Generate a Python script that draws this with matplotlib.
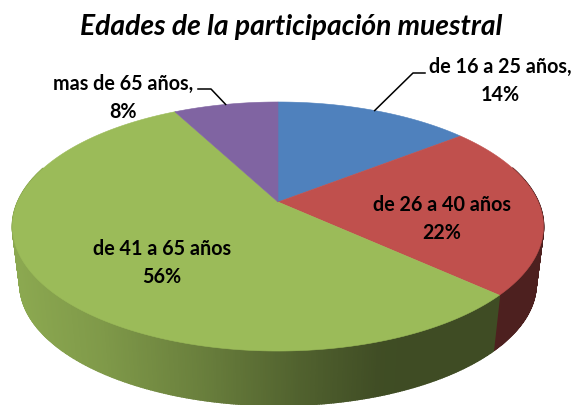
import numpy as np
import matplotlib
matplotlib.use('Agg')
import matplotlib.pyplot as plt

# shares (labels show them rounded)
categories = ['de 16 a 25 años', 'de 26 a 40 años', 'de 41 a 65 años', 'mas de 65 años']
shares = [14.4, 22.4, 55.5, 7.7]
shown = ['14%', '22%', '56%', '8%']
title = 'Edades de la participación muestral'

colors = ['#4f81bd', '#c0504d', '#9bbb59', '#8064a2']
side_x = [15, 100, 200, 300, 380, 572]
side_k = [0.90, 0.82, 0.68, 0.52, 0.41, 0.40]

plt.rcParams['font.family'] = ['Lato', 'DejaVu Sans']

# perspective of the pie, in pixels
cx = 278
top_y, bottom_y = 203, 261
top_a, top_b = 260.3, 119.7
bot_a, bot_b = 253.0, 116.8
persp = 0.1968


def rim(t, a, b, y0):
    u, v = np.sin(t), np.cos(t)
    d = 1 + persp * v
    return cx + a * u / d, y0 - b * v / d


fig = plt.figure(figsize=(5.72, 4.06), dpi=100)
ax = fig.add_axes([0, 0, 1, 1])
ax.set_xlim(0, 572)
ax.set_ylim(406, 0)
ax.axis('off')

edges = np.radians(np.cumsum([0] + shares) * 3.6)

# side wall first
for i in range(len(shares)):
    ts = np.linspace(edges[i], edges[i + 1], int(shares[i] * 8) + 2)
    rgb = np.array(matplotlib.colors.to_rgb(colors[i]))
    for t0, t1 in zip(ts[:-1], ts[1:]):
        if np.cos((t0 + t1) / 2) > 0.3:
            continue
        x0, y0 = rim(t0, top_a, top_b, top_y)
        x1, y1 = rim(t1, top_a, top_b, top_y)
        x2, y2 = rim(t1, bot_a, bot_b, bottom_y)
        x3, y3 = rim(t0, bot_a, bot_b, bottom_y)
        k = np.interp((x0 + x1) / 2, side_x, side_k)
        c = rgb * k
        ax.fill([x0, x1, x2, x3], [y0, y1, y2, y3], facecolor=c, edgecolor=c, lw=1.2)

# top face
for i in range(len(shares)):
    ts = np.linspace(edges[i], edges[i + 1], 200)
    xs, ys = rim(ts, top_a, top_b, top_y)
    ax.fill(np.r_[cx, xs], np.r_[top_y, ys], color=colors[i], lw=0.4)

# leader lines go to the middle of the slice on the rim
mids = (edges[:-1] + edges[1:]) / 2
x, y = rim(mids[0], top_a, top_b, top_y)
ax.plot([x, 413, 425], [y, 74, 74], color='black', lw=1.1)
x, y = rim(mids[3], top_a, top_b, top_y)
ax.plot([x, 211, 198], [y, 90, 90], color='black', lw=1.1)

ax.text(291, 27, title, ha='center', va='center', fontsize=20.3,
        fontweight='bold', fontstyle='italic')

label_pos = [(500, 81), (442, 219), (162, 263), (123, 98)]
commas = [',', '', '', ',']
for i in range(len(categories)):
    ax.text(label_pos[i][0], label_pos[i][1], categories[i] + commas[i] + '\n' + shown[i],
            ha='center', va='center', fontsize=14.2, fontweight='bold', linespacing=1.55)

fig.savefig('out.png', dpi=100)
